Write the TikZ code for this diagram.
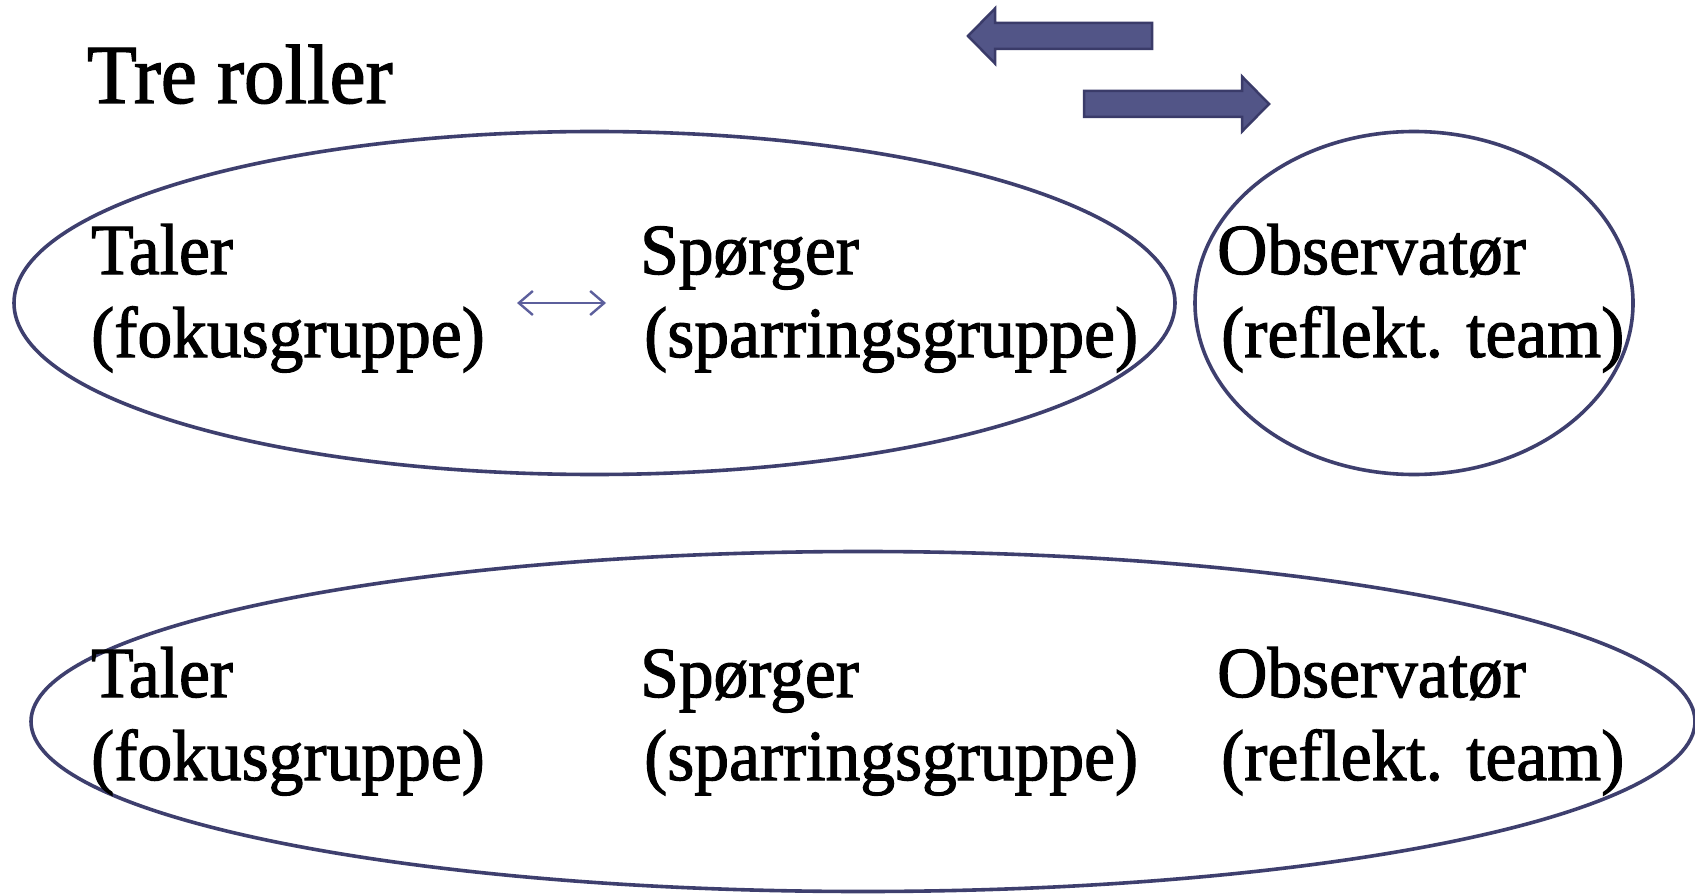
\documentclass[tikz,border=0pt]{standalone}
\usepackage{fontspec}
\setmainfont{Liberation Serif}[FakeBold=1.6, FakeStretch=0.965]
\usetikzlibrary{arrows.meta}
\definecolor{ringcol}{HTML}{3E3F6E}
\definecolor{blockfill}{HTML}{525587}
\definecolor{blockline}{HTML}{3A3B69}
\definecolor{dblcol}{HTML}{5C5F9C}
\tikzset{
  ring/.style={draw=ringcol, line width=3.6pt},
  blockarrow/.style={fill=blockfill, draw=blockline, line width=2.5pt, line join=miter},
  lbl/.style={inner sep=0pt, anchor=base west, font=\fontsize{72}{83}\selectfont},
  titlelbl/.style={inner sep=0pt, anchor=base west, font=\fontsize{84}{93}\selectfont},
  dbl/.style={draw=dblcol, line width=2.4pt, {Straight Barb[length=14pt,width=24pt,line width=2.4pt]}-{Straight Barb[length=14pt,width=24pt,line width=2.4pt]}}
}
\begin{document}
\begin{tikzpicture}[x=1pt,y=-1pt]
\useasboundingbox (0,0) rectangle (1695,896);
\fill[white] (0,0) rectangle (1695,896);

% title
\node[titlelbl] (title) at (87,103) {Tre roller};

% block arrows
\draw[blockarrow] (968,36) -- (995,8.5) -- (995,23) -- (1152,23) -- (1152,49) -- (995,49) -- (995,63.5) -- cycle;
\draw[blockarrow] (1269,104) -- (1242,76.5) -- (1242,91) -- (1084,91) -- (1084,117) -- (1242,117) -- (1242,131.5) -- cycle;

% ellipses
\draw[ring] (594.5,303) ellipse [x radius=580.5pt, y radius=171.5pt];
\draw[ring] (1414,303) ellipse [x radius=219pt, y radius=171.5pt];
\draw[ring] (863,721.5) ellipse [x radius=832pt, y radius=170pt];

% top row labels
\node[lbl] (t1a) at (91,274) {Taler};
\node[lbl] (t1b) at (91,357) {(fokusgruppe)};
\node[lbl] (s1a) at (640,274) {Spørger};
\node[lbl] (s1b) at (644,357) {(sparringsgruppe)};
\node[lbl] (o1a) at (1217,274) {Observatør};
\node[lbl] (o1b) at (1221,357) {(reflekt. team)};

% double arrow
\coordinate (da1) at (517,303);
\coordinate (da2) at (606,303);
\draw[dbl] (da1) -- (da2);

% bottom row labels
\node[lbl] (t2a) at (91,697) {Taler};
\node[lbl] (t2b) at (91,780) {(fokusgruppe)};
\node[lbl] (s2a) at (640,697) {Spørger};
\node[lbl] (s2b) at (644,780) {(sparringsgruppe)};
\node[lbl] (o2a) at (1217,697) {Observatør};
\node[lbl] (o2b) at (1221,780) {(reflekt. team)};
\end{tikzpicture}
\end{document}
